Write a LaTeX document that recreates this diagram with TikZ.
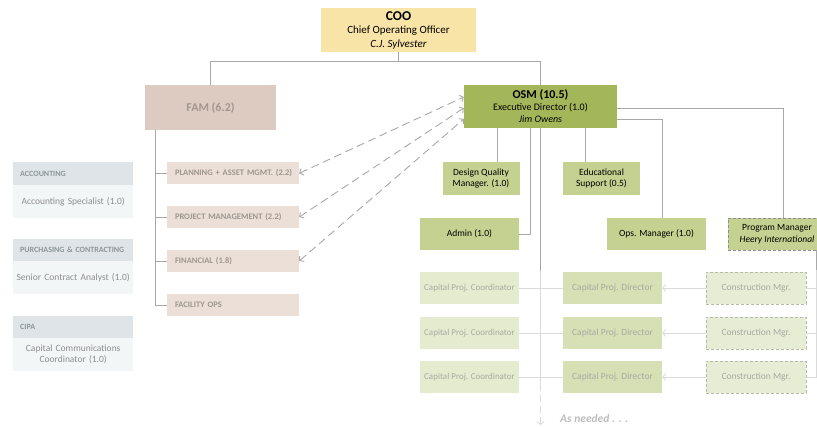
\documentclass[tikz,border=0pt]{standalone}
\usepackage{fontspec}
\setmainfont{Carlito}
\usetikzlibrary{arrows.meta}
\definecolor{cooFill}{HTML}{F9E4A8}
\definecolor{osmFill}{HTML}{A4B65A}
\definecolor{midFill}{HTML}{C5D190}
\definecolor{dirFill}{HTML}{D7DFB5}
\definecolor{crdFill}{HTML}{E5EBCF}
\definecolor{cmFill}{HTML}{E7ECD4}
\definecolor{famFill}{HTML}{DDCBC1}
\definecolor{itemFill}{HTML}{EBDFD8}
\definecolor{famText}{HTML}{A3968F}
\definecolor{itemText}{HTML}{9F9690}
\definecolor{lowText}{HTML}{A8AAA2}
\definecolor{hdrFill}{HTML}{DEE4E7}
\definecolor{bodyFill}{HTML}{F3F6F7}
\definecolor{hdrText}{HTML}{8D969B}
\definecolor{bodyText}{HTML}{8E8E8E}
\definecolor{connCol}{HTML}{A8A8A8}
\definecolor{liteCol}{HTML}{DADADA}
\definecolor{needCol}{HTML}{BDBDBD}
\definecolor{cmBorder}{HTML}{B5BBA5}
\definecolor{pmBorder}{HTML}{8E8E8E}
\begin{document}
\begin{tikzpicture}[x=1pt,y=-1pt,
  box/.style={inner sep=0pt,align=center,font=\fontsize{9.5}{11.5}\selectfont},
  coobox/.style={box,fill=cooFill,minimum width=155pt,minimum height=44pt,font=\fontsize{11}{13.5}\selectfont},
  osmbox/.style={box,fill=osmFill,minimum width=153pt,minimum height=43pt,font=\fontsize{10}{12}\selectfont},
  midbox/.style={box,fill=midFill,minimum height=33pt},
  fambox/.style={box,fill=famFill,minimum width=131pt,minimum height=45pt,text=famText,font=\fontsize{12}{14}\selectfont\bfseries},
  itembox/.style={box,fill=itemFill,minimum height=22pt,text=itemText,font=\fontsize{8.5}{10}\selectfont\bfseries,text width=116pt,inner xsep=8pt,align=left},
  dirbox/.style={box,fill=dirFill,minimum width=99pt,minimum height=32pt,text=lowText},
  crdbox/.style={box,fill=crdFill,minimum width=99pt,minimum height=32pt,text=lowText,font=\fontsize{9}{11}\selectfont},
  cmbox/.style={box,fill=cmFill,draw=cmBorder,densely dashed,line width=0.5pt,minimum width=100pt,minimum height=32pt,text=lowText},
  hdrbox/.style={box,fill=hdrFill,text width=106pt,inner xsep=7pt,align=left,minimum height=22.5pt,text=hdrText,font=\fontsize{8}{9.5}\selectfont\bfseries,anchor=west},
  bodybox/.style={box,fill=bodyFill,text width=120pt,align=center,minimum height=33pt,text=bodyText,anchor=west},
  conn/.style={draw=connCol,line width=0.8pt},
  lite/.style={draw=liteCol,line width=0.8pt},
  dasharrow/.style={draw=connCol,line width=0.9pt,dash pattern=on 8pt off 4.5pt,{Straight Barb[length=3pt,width=7pt]}-{Straight Barb[length=3pt,width=7pt]}}
]
\useasboundingbox (0,0) rectangle (817,426);
\clip (0,0) rectangle (817,426);

% top
\node[coobox] (coo) at (398.5,30) {\fontsize{13.5}{15}\selectfont\bfseries COO\\Chief Operating Officer\\\itshape C.J. Sylvester};
\node[fambox] (fam) at (210.5,107.5) {FAM (6.2)};
\node[osmbox] (osm) at (540.5,106.5) {\fontsize{12}{13}\selectfont\bfseries OSM (10.5)\\Executive Director (1.0)\\\itshape Jim Owens};

% FAM items
\node[itembox] (plan) at (233,173.3) {\mbox{PLANNING + ASSET MGMT. (2.2)}};
\node[itembox] (proj) at (233,217) {\mbox{PROJECT MANAGEMENT (2.2)}};
\node[itembox] (fin) at (233,261) {FINANCIAL (1.8)};
\node[itembox] (fac) at (233,305) {FACILITY OPS};

% OSM children
\node[midbox,minimum width=77pt] (dqm) at (481,178.5) {Design Quality\\Manager. (1.0)};
\node[midbox,minimum width=77pt] (edu) at (601.5,178.5) {Educational\\Support (0.5)};
\node[midbox,minimum width=99pt,minimum height=32pt] (admin) at (469.5,234) {Admin (1.0)};
\node[midbox,minimum width=99pt,minimum height=32pt] (ops) at (656.5,234) {Ops. Manager (1.0)};
\node[midbox,minimum width=98pt,minimum height=32pt,draw=pmBorder,densely dashed,line width=0.5pt] (pm) at (777,234) {Program Manager\\\itshape Heery International};

% bottom grid
\foreach \i/\y in {1/288,2/333,3/377}{
  \node[crdbox] (crd\i) at (469.5,\y) {Capital Proj. Coordinator};
  \node[dirbox] (dir\i) at (612.5,\y) {Capital Proj. Director};
  \node[cmbox] (cm\i) at (756,\y) {Construction Mgr.};
}

% left panel
\node[hdrbox] (acch) at (13,173.5) {ACCOUNTING};
\node[bodybox] (accb) at (13,201.5) {Accounting Specialist (1.0)};
\node[hdrbox] (purh) at (13,250) {\mbox{PURCHASING \& CONTRACTING}};
\node[bodybox] (purb) at (13,277.5) {Senior Contract Analyst (1.0)};
\node[hdrbox] (ciph) at (13,327) {CIPA};
\node[bodybox] (cipb) at (13,354.5) {Capital Communications\\Coordinator (1.0)};

% connectors top
\draw[conn] (coo.south) -- ++(0,10);
\draw[conn] (fam.north) -- ++(0,-23) -| (osm.north);

% FAM tree
\coordinate (famx) at ([xshift=11pt]fam.south west);
\draw[conn] (famx) |- (fac.west);
\foreach \n in {plan,proj,fin}{\draw[conn] (famx |- \n.west) -- (\n.west);}

% dashed arrows
\draw[dasharrow] (plan.east) -- ([yshift=9.5pt]osm.west);
\draw[dasharrow] (proj.east) -- ([yshift=-1.5pt]osm.west);
\draw[dasharrow] (fin.east) -- ([yshift=-12.5pt]osm.west);

% OSM tree
\draw[conn] ([xshift=16pt]dqm.north) -- ([xshift=16pt]dqm.north |- osm.south);
\draw[conn] ([xshift=-16.5pt]edu.north) -- ([xshift=-16.5pt]edu.north |- osm.south);
\draw[conn] (admin.east) -| ([xshift=-10.5pt]osm.south);
\draw[conn] ([yshift=-1.5pt]osm.east) -| ([xshift=6pt]pm.north);
\draw[conn] ([yshift=-12.5pt]osm.east) -| ([xshift=5.5pt]ops.north);

% long line down
\coordinate (n1) at (540.5,271);
\coordinate (n2) at (540.5,384);
\coordinate (n3) at (540.5,425);
\draw[conn] (osm.south) -- (n1);
\draw[lite] (n1) -- (n2);
\draw[lite,dash pattern=on 7pt off 4pt,-{Straight Barb[length=3pt,width=7pt]}] (n2) -- (n3);
\node[inner sep=0pt,anchor=west,text=needCol,font=\fontsize{11.5}{13}\selectfont\bfseries\itshape] (need) at (560,419) {As needed . . .};

% right line
\draw[conn] ([xshift=39pt]pm.south) -- ++(0,20) coordinate (r1);
\draw[lite] (r1) |- (cm3.east);
\draw[lite] (cm1.east) -- (cm1.east -| r1);
\draw[lite] (cm2.east) -- (cm2.east -| r1);

% grid rows
\foreach \i in {1,2,3}{
  \draw[lite,-{Straight Barb[length=3pt,width=7pt]}] (cm\i.west) -- (dir\i.east);
  \draw[lite] (crd\i.east) -- (dir\i.west);
}
\end{tikzpicture}
\end{document}
